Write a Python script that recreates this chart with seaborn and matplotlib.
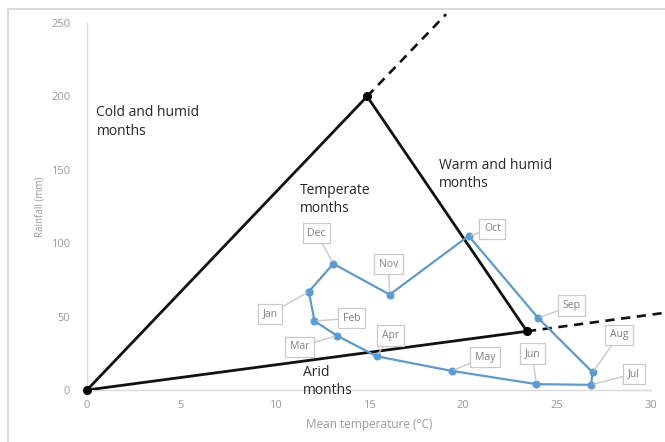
import matplotlib
matplotlib.use("Agg")
import matplotlib.pyplot as plt
from matplotlib.patches import Rectangle
import pandas as pd
import seaborn as sns

# Monthly climate values
months = ["Jan", "Feb", "Mar", "Apr", "May", "Jun", "Jul", "Aug", "Sep", "Oct", "Nov", "Dec"]
temp_c = [11.8, 12.1, 13.3, 15.4, 19.4, 23.9, 26.8, 26.9, 24.0, 20.3, 16.1, 13.1]
rain_mm = [67, 47, 37, 23, 13, 4, 3.5, 12, 49, 105, 65, 86]

# Climate-zone triangle and its extensions
tri_temp = [0, 14.9, 23.4, 0]
tri_rain = [0, 200, 40, 0]
upper_ext_temp = [14.9, 19.1]
upper_ext_rain = [200, 256]
lower_ext_temp = [23.4, 30.8]
lower_ext_rain = [40, 52.7]

# Region names
zone_names = ["Cold and humid\nmonths", "Temperate\nmonths", "Warm and humid\nmonths", "Arid\nmonths"]
zone_temp = [0.5, 11.3, 18.7, 11.5]
zone_rain = [194, 141, 158, 17]

x_ticks = [0, 5, 10, 15, 20, 25, 30]
y_ticks = [0, 50, 100, 150, 200, 250]

sns.set_style("white")
plt.rcParams["font.family"] = ["Open Sans", "DejaVu Sans"]

BLUE = "#5b9bd5"
GRID_GREY = "#d9d9d9"
TICK_GREY = "#999999"
INK = "#262626"

fig = plt.figure(figsize=(6.65, 4.42), dpi=100)
ax = fig.add_axes([87 / 665, 1 - 390 / 442, (651 - 87) / 665, (390 - 23) / 442])

# outer chart frame (runs off the right and bottom edges)
fig.patches.append(Rectangle((8 / 665, -0.05), 1.2, 1.05 - 9 / 442, transform=fig.transFigure,
                             fill=False, edgecolor=GRID_GREY, lw=1.5, zorder=0))

# triangle boundaries
tri = pd.DataFrame({"t": tri_temp, "r": tri_rain})
sns.lineplot(data=tri, x="t", y="r", sort=False, estimator=None, color="#111111",
             lw=2.0, ax=ax, zorder=3)
ax.plot(tri_temp[:3], tri_rain[:3], "o", color="#000000", ms=5.5, zorder=4, clip_on=False)
for ext_t, ext_r in [(upper_ext_temp, upper_ext_rain), (lower_ext_temp, lower_ext_rain)]:
    ext = pd.DataFrame({"t": ext_t, "r": ext_r})
    sns.lineplot(data=ext, x="t", y="r", sort=False, estimator=None, color="#111111",
                 lw=1.9, ax=ax, zorder=3)
    ax.lines[-1].set_linestyle((0, (3.5, 2.5)))
    ax.lines[-1].set_clip_on(False)

# monthly loop, closed from Dec back to Jan
loop = pd.DataFrame({"t": temp_c + temp_c[:1], "r": rain_mm + rain_mm[:1]})
sns.lineplot(data=loop, x="t", y="r", sort=False, estimator=None, color=BLUE,
             lw=1.6, marker="o", markersize=5, markeredgecolor=BLUE, ax=ax, zorder=5)

# month callouts
label_offsets = {
    "Jan": (-28, -16), "Feb": (27, 2), "Mar": (-27, -8), "Apr": (10, 15),
    "May": (24, 10), "Jun": (-3, 22), "Jul": (31, 8), "Aug": (19, 27),
    "Sep": (24, 9), "Oct": (17, 5), "Nov": (-1, 22), "Dec": (-12, 22),
}
for m, t, r in zip(months, temp_c, rain_mm):
    ax.annotate(m, xy=(t, r), xytext=label_offsets[m], textcoords="offset points",
                ha="center", va="center", fontsize=7.5, color="#7f7f7f",
                bbox=dict(boxstyle="square,pad=0.45", fc="white", ec="#c8c8c8", lw=0.9),
                arrowprops=dict(arrowstyle="-", color="#c8c8c8", lw=1.0, shrinkA=0, shrinkB=2),
                zorder=6, annotation_clip=False)

for name, t, r in zip(zone_names, zone_temp, zone_rain):
    ax.text(t, r, name, ha="left", va="top", fontsize=10, color=INK,
            linespacing=1.3, zorder=7, clip_on=False)

ax.set_xlim(0, 30)
ax.set_ylim(0, 250)
ax.set_xticks(x_ticks)
ax.set_yticks(y_ticks)
ax.tick_params(axis="both", length=0, labelsize=8, labelcolor=TICK_GREY)
ax.tick_params(axis="x", pad=7)
ax.tick_params(axis="y", pad=12)
ax.set_xlabel("Mean temperature (°C)", fontsize=8.5, color=TICK_GREY, labelpad=5)
ax.set_ylabel("Rainfall (mm)", fontsize=7, color=TICK_GREY, labelpad=4)
for side in ("top", "right"):
    ax.spines[side].set_visible(False)
for side in ("left", "bottom"):
    ax.spines[side].set_color(GRID_GREY)
    ax.spines[side].set_linewidth(1.0)
ax.set_facecolor("white")

fig.savefig("out.png", dpi=100, facecolor="white")
